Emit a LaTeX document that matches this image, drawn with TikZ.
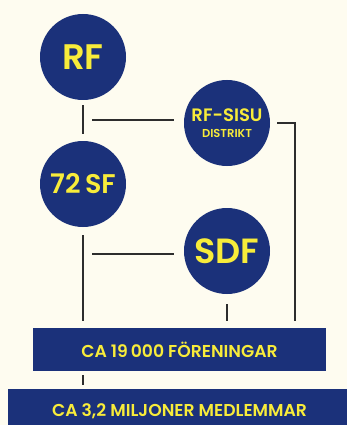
\documentclass[tikz,border=0pt]{standalone}
\usepackage{fontspec}
\setmainfont{Poppins}[UprightFont=* SemiBold,BoldFont=* Bold]
\usetikzlibrary{positioning}
\begin{document}
\begin{tikzpicture}[x=1pt,y=-1pt,
  org/.style={circle, fill=navy, text=gul, minimum size=86pt, inner sep=0pt, align=center},
  band/.style={rectangle, fill=navy, text=gul, inner sep=0pt, font=\fontsize{17.2}{17}\selectfont},
  link/.style={draw=linje, line width=1.3pt}]
%Define all colors here.
\definecolor{navy}{RGB}{27,49,122}
\definecolor{gul}{RGB}{248,236,58}
\definecolor{linje}{RGB}{45,45,45}
\definecolor{bakgrund}{RGB}{254,252,240}

\useasboundingbox (0,0) rectangle (347,425);
\fill[bakgrund] (0,0) rectangle (347,425);
\clip (0,0) rectangle (347,425);

\node(RF) at (83,57) [org, font=\fontsize{35.5}{35}\selectfont] {RF};
\node(SISU) at (227,123) [org, font=\fontsize{18}{15.6}\selectfont] {RF-SISU\\{\fontsize{11.5}{15.6}\selectfont DISTRIKT}};
\node(SF) at (83,184) [org, font=\fontsize{27}{27}\selectfont] {72\,SF};
\node(SDF) at (227,251) [org, font=\fontsize{35}{35}\selectfont] {SDF};

\node(FOR) at (179.5,349.5) [band, minimum width=293pt, minimum height=43pt] {CA 19\,000 FÖRENINGAR};
\node(MED) at (179.5,411) [band, minimum width=343pt, minimum height=44pt] {CA 3,2 MILJONER MEDLEMMAR};

\coordinate(j1) at (83,120);
\coordinate(j2) at (83,254);
\coordinate(r1) at (295,321);

\draw[link, shorten <=5pt, shorten >=7pt] (RF) -- (SF);
\draw[link, shorten <=9pt, shorten >=10pt] (j1) -- (SISU.west |- j1);
\draw[link, shorten <=7pt] (SISU.east) -| (r1);
\draw[link, shorten <=9pt, shorten >=10pt] (j2) -- (SDF.west |- j2);
\draw[link, shorten <=8pt, shorten >=7pt] (SF.south) -- (SF.south |- FOR.north);
\draw[link, shorten <=10pt, shorten >=7pt] (SDF.south) -- (SDF.south |- FOR.north);
\draw[link, shorten <=4pt, shorten >=4pt] (FOR.south -| SF) -- (MED.north -| SF);
\end{tikzpicture}
\end{document}
